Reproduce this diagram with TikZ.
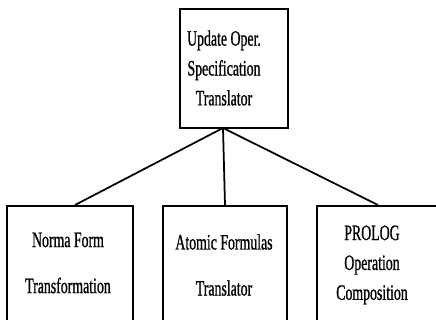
\documentclass[tikz,border=0pt]{standalone}
\usepackage{fontspec}
\newfontfamily\condserif[FakeStretch=0.63,FakeBold=0.8]{Liberation Serif}
\usetikzlibrary{positioning}

\tikzset{
  modbox/.style={draw,line width=1pt,minimum width=2.5cm,inner sep=0pt},
  modtext/.style={align=center,inner sep=0pt}
}

\begin{document}
\begin{tikzpicture}[x=0.02cm,y=-0.02cm]
\clip (0,0) rectangle (436,320);

\node[modbox,minimum width=2.16cm,minimum height=2.38cm] (updt) at (234,68.5) {};
\node[modbox,anchor=north,minimum width=2.52cm,minimum height=3cm] (nform) at (70,205) {};
\node[modbox,anchor=north,minimum width=2.48cm,minimum height=3cm] (atomic) at (225,205) {};
\node[modbox,anchor=north west,minimum width=3cm,minimum height=3cm] (prolog) at (316,205) {};

\node[modtext,font={\condserif\fontsize{12.5}{17}\selectfont}] (updtT) at (224,68) {Update Oper.\\Specification\\Translator};
\node[modtext,font={\condserif\fontsize{12.5}{26.2}\selectfont}] (nformT) at (68,263) {Norma Form\\Transformation};
\node[modtext,font={\condserif\fontsize{12.5}{26.2}\selectfont}] (atomicT) at (224,265) {Atomic Formulas\\Translator};
\node[modtext,font={\condserif\fontsize{12.5}{17}\selectfont}] (prologT) at (372,265) {PROLOG\\Operation\\Composition};

\coordinate (apex) at (223,128);
\draw[line width=1pt] (apex) -- ([xshift=0.1cm]nform.north);
\draw[line width=1pt] (apex) -- (atomic.north);
\draw[line width=1pt] (apex) -- ([xshift=1.24cm]prolog.north west);
\end{tikzpicture}
\end{document}
